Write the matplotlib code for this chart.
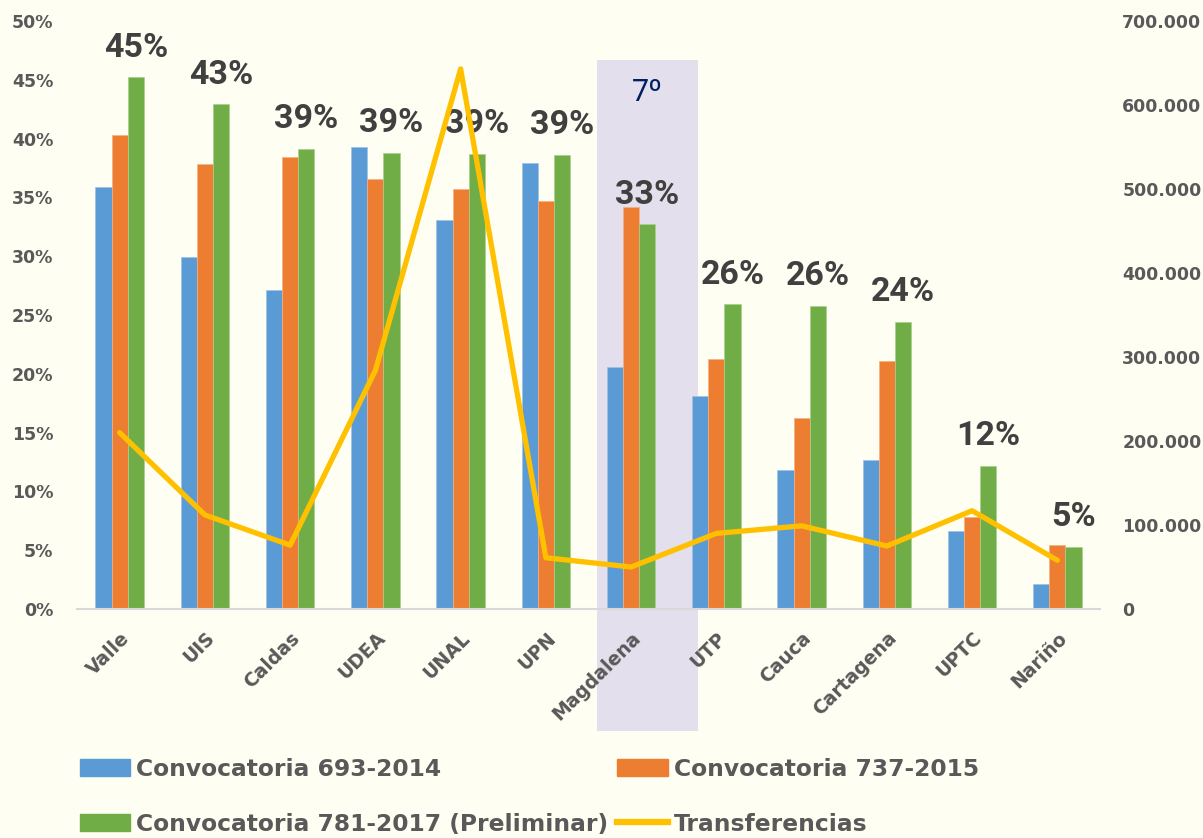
import matplotlib
matplotlib.use("Agg")
import matplotlib.pyplot as plt
import matplotlib.transforms as mtransforms
from matplotlib.patches import Patch, Rectangle
from matplotlib.lines import Line2D
from matplotlib.ticker import FuncFormatter
import numpy as np

universidades = ["Valle", "UIS", "Caldas", "UDEA", "UNAL", "UPN", "Magdalena",
                 "UTP", "Cauca", "Cartagena", "UPTC", "Nariño"]
conv_2014 = [35.9, 29.9, 27.1, 39.3, 33.1, 37.9, 20.6, 18.1, 11.8, 12.7, 6.6, 2.1]
conv_2015 = [40.3, 37.8, 38.4, 36.6, 35.7, 34.7, 34.2, 21.3, 16.2, 21.1, 7.8, 5.4]
conv_2017 = [45.2, 42.9, 39.1, 38.8, 38.7, 38.6, 32.7, 25.9, 25.8, 24.4, 12.2, 5.3]
transferencias = [210000, 112000, 76000, 284000, 643000, 61000, 50000,
                  90000, 99000, 75000, 117000, 58000]
series_names = ["Convocatoria 693-2014", "Convocatoria 737-2015",
                "Convocatoria 781-2017 (Preliminar)", "Transferencias"]
destacado = 6
destacado_texto = "7º"

bg = "#FEFEF2"
c_blue, c_orange, c_green, c_line = "#5B9BD5", "#ED7D31", "#70AD47", "#FFC000"
tick_color = "#595959"

fig = plt.figure(figsize=(12.03, 8.38), dpi=100, facecolor=bg)
ax = fig.add_axes([77/1203, 1 - 609/838, 1023/1203, 588/838])
ax.set_facecolor("none")
ax2 = ax.twinx()

x = np.arange(len(universidades))
w = 0.19
ax.bar(x - w, np.array(conv_2014) / 100, w, color=c_blue, edgecolor="#9DC3E6", lw=0.5, zorder=2)
ax.bar(x, np.array(conv_2015) / 100, w, color=c_orange, edgecolor="#F4B183", lw=0.5, zorder=2)
ax.bar(x + w, np.array(conv_2017) / 100, w, color=c_green, edgecolor="#A9D18E", lw=0.5, zorder=2)

for xi, v in zip(x, conv_2017):
    ax.annotate(f"{v:.0f}%", (xi + w, v / 100), xytext=(0, 15), textcoords="offset points",
                ha="center", va="baseline", fontsize=24.5, fontweight="bold",
                color="#404040", family=["Roboto", "DejaVu Sans"], zorder=3)

# highlighted column
trans = mtransforms.blended_transform_factory(ax.transData, ax.transAxes)
ax.add_patch(Rectangle((destacado - 0.4, -0.207), 1.18, 1.141, transform=trans,
                       facecolor="#E4DFEC", edgecolor="none", clip_on=False, zorder=0.5))
ax.text(destacado + 0.19, 0.878, destacado_texto, transform=trans, ha="center", va="center",
        fontsize=22, color="#002060", family=["Roboto", "DejaVu Sans"])

ax2.plot(x, transferencias, color=c_line, lw=3.8, solid_joinstyle="round",
         solid_capstyle="round", zorder=3)

ax.set_xlim(-0.5, len(universidades) - 0.5)
ax.set_ylim(0, 0.5)
ax.set_yticks(np.arange(0, 0.51, 0.05))
ax.yaxis.set_major_formatter(FuncFormatter(lambda v, p: f"{v*100:.0f}%"))
ax2.set_ylim(0, 700000)
ax2.set_yticks(np.arange(0, 700001, 100000))
ax2.yaxis.set_major_formatter(FuncFormatter(lambda v, p: f"{v:,.0f}".replace(",", ".")))

ax.set_xticks(x)
ax.set_xticklabels(universidades, rotation=45, ha="right", rotation_mode="anchor")

for a in (ax, ax2):
    for s in a.spines.values():
        s.set_visible(False)
    a.tick_params(length=0, colors=tick_color)
ax.spines["bottom"].set_visible(True)
ax.spines["bottom"].set_color("#D9D9D9")
ax.spines["bottom"].set_linewidth(1.5)

for lab in ax.get_yticklabels() + ax2.get_yticklabels():
    lab.set_fontsize(12.5)
    lab.set_fontweight("bold")
for lab in ax.get_xticklabels():
    lab.set_fontsize(13.5)
    lab.set_fontweight("bold")
ax.tick_params(axis="y", pad=17)
ax2.tick_params(axis="y", pad=16)
ax.tick_params(axis="x", pad=14)

handles = [Patch(color=c_blue), Patch(color=c_green), Patch(color=c_orange),
           Line2D([], [], color=c_line, lw=4.5)]
labels = [series_names[0], series_names[2], series_names[1], series_names[3]]
leg = fig.legend(handles, labels, ncol=2, loc="upper left",
                 bbox_to_anchor=(80/1203, 1 - 758/838), frameon=False,
                 prop={"size": 16.8, "weight": "bold"}, handlelength=2.15, handleheight=0.73,
                 handletextpad=0.26, columnspacing=0.39, labelspacing=1.35, borderpad=0,
                 borderaxespad=0)
for t in leg.get_texts():
    t.set_color(tick_color)

fig.savefig("out.png", dpi=100, facecolor=bg)
